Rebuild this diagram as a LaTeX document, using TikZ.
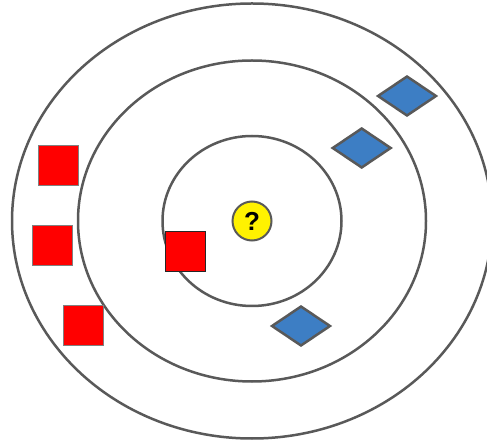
\documentclass[tikz,border=0pt]{standalone}
\usepackage{fontspec}
\setmainfont{Liberation Sans}
\usetikzlibrary{shapes.geometric}
\definecolor{ringgray}{RGB}{89,89,89}
\definecolor{diamblue}{RGB}{61,126,196}
\begin{document}
\begin{tikzpicture}[x=1pt,y=-1pt]
  \tikzstyle{ring}=[draw=ringgray,line width=2.5pt]
  \tikzstyle{redsq}=[rectangle,minimum size=40pt,inner sep=0pt,fill=red,draw=gray,line width=0.8pt]
  \tikzstyle{bluedia}=[diamond,minimum width=59pt,minimum height=40pt,inner sep=0pt,fill=diamblue,draw=ringgray,line width=2.5pt]
  \tikzstyle{query}=[circle,minimum size=39pt,inner sep=0pt,fill=yellow,draw=ringgray,line width=2pt,font=\fontsize{26}{26}\selectfont\bfseries]

  \path [use as bounding box,clip] (0,0) rectangle (487,443);

  \draw [ring] (252,221) ellipse [x radius=240pt,y radius=217.5pt];
  \draw [ring] (252,221) ellipse [x radius=174pt,y radius=160.5pt];
  \draw [ring] (252,221) ellipse [x radius=89.5pt,y radius=85pt];

  \node [redsq] (sqa) at (58.7,165.3) {};
  \node [redsq] (sqb) at (52,245.7) {};
  \node [redsq] (sqc) at (83,325.7) {};
  \node [redsq,draw=black!85] (sqd) at (185.7,251) {};

  \node [bluedia] (diaa) at (407,96) {};
  \node [bluedia] (diab) at (361.7,148) {};
  \node [bluedia] (diac) at (301,326) {};

  \node [query] (query) at (252,221) {?};
\end{tikzpicture}
\end{document}
